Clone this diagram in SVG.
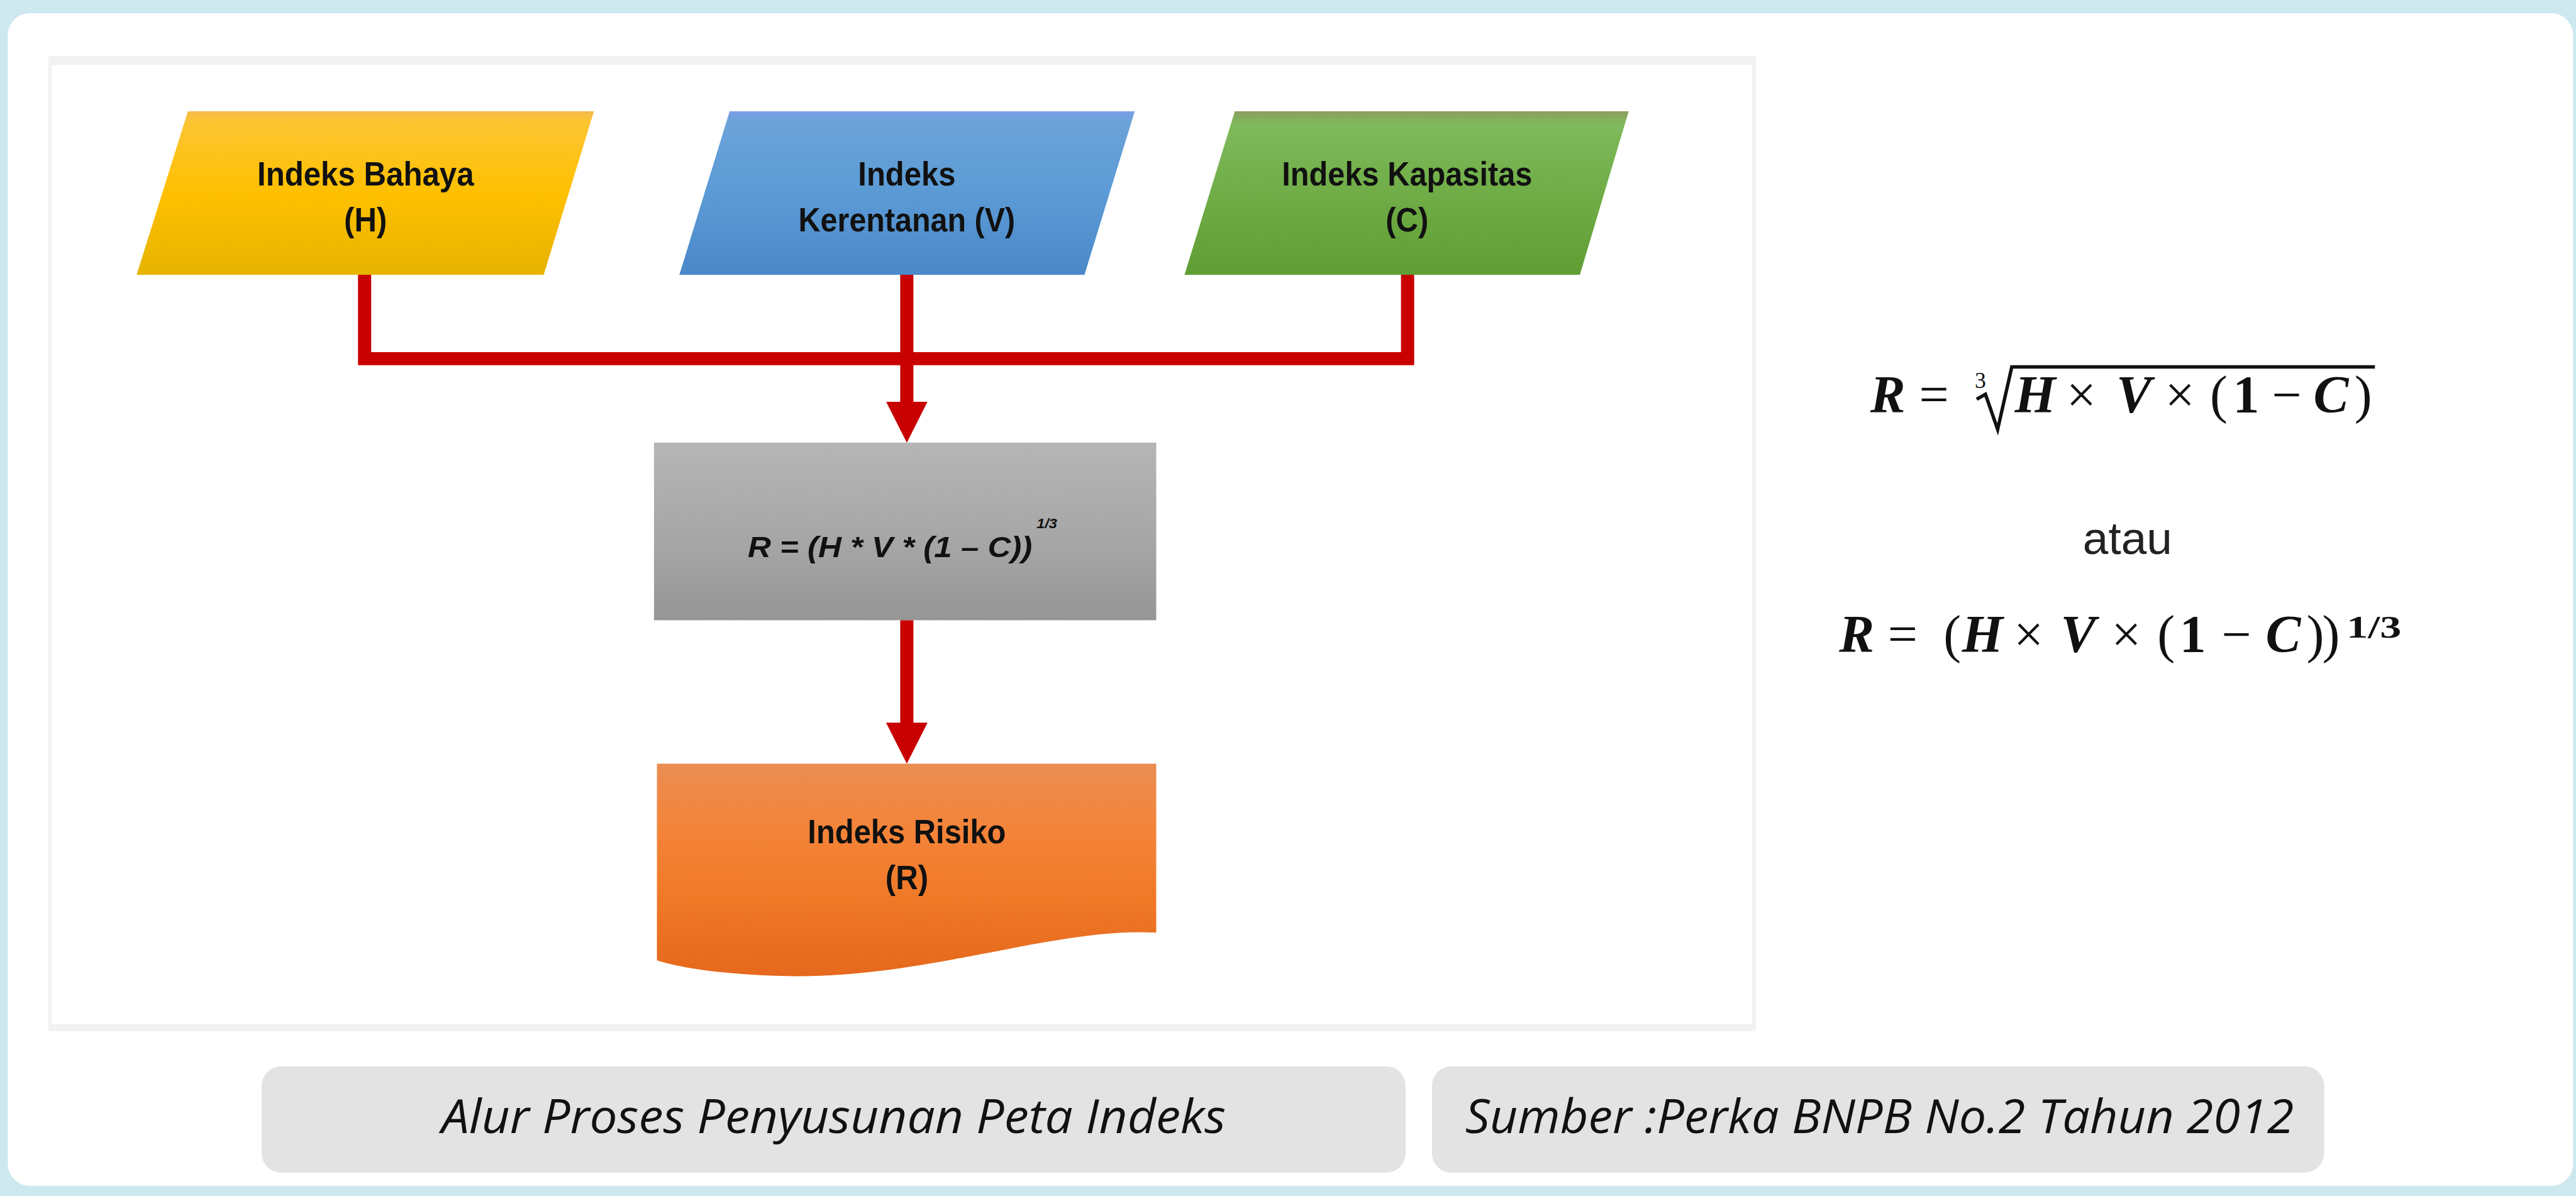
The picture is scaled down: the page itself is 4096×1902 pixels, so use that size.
<svg xmlns="http://www.w3.org/2000/svg" width="4096" height="1902" viewBox="0 0 4096 1902">
<defs>
  <linearGradient id="gY" x1="0" y1="0" x2="0" y2="1">
    <stop offset="0" stop-color="#f6b84e"/>
    <stop offset="0.06" stop-color="#fbc532"/>
    <stop offset="0.5" stop-color="#ffc000"/>
    <stop offset="1" stop-color="#e6b300"/>
  </linearGradient>
  <linearGradient id="gB" x1="0" y1="0" x2="0" y2="1">
    <stop offset="0" stop-color="#7b9ee6"/>
    <stop offset="0.06" stop-color="#6ba3d8"/>
    <stop offset="0.5" stop-color="#5b9bd5"/>
    <stop offset="1" stop-color="#4a88c9"/>
  </linearGradient>
  <linearGradient id="gG" x1="0" y1="0" x2="0" y2="1">
    <stop offset="0" stop-color="#8c9f5e"/>
    <stop offset="0.08" stop-color="#7eba5b"/>
    <stop offset="0.5" stop-color="#70ad47"/>
    <stop offset="1" stop-color="#5f9e33"/>
  </linearGradient>
  <linearGradient id="gGr" x1="0" y1="0" x2="0" y2="1">
    <stop offset="0" stop-color="#b5b5b5"/>
    <stop offset="0.5" stop-color="#a8a8a8"/>
    <stop offset="1" stop-color="#969696"/>
  </linearGradient>
  <linearGradient id="gO" x1="0" y1="0" x2="0" y2="1">
    <stop offset="0" stop-color="#ea8d52"/>
    <stop offset="0.3" stop-color="#f4843a"/>
    <stop offset="0.6" stop-color="#f07a28"/>
    <stop offset="1" stop-color="#e6681c"/>
  </linearGradient>
  <marker id="ah" markerUnits="userSpaceOnUse" viewBox="0 0 84 85" markerWidth="84" markerHeight="85" refX="44" refY="42.5" orient="auto">
    <path d="M0,0 L84,42.5 L0,85 z" fill="#c80000"/>
  </marker>
</defs>
<style>
  .nt{font-family:"Liberation Sans",Arial,sans-serif;font-weight:bold;font-size:70px;fill:#111;text-anchor:middle}
  .cap{font-family:"Open Sans","Liberation Sans",sans-serif;font-style:italic;font-size:96px;fill:#111;text-anchor:middle}
  .m{font-family:"Liberation Serif","Times New Roman",serif;font-size:108px;fill:#111}
  .bi{font-weight:bold;font-style:italic}
  .b{font-weight:bold}
  .conn{fill:none;stroke:#c80000;stroke-width:27}
  .capbox{fill:#e3e3e3}
</style>
<g transform="scale(0.776052)">
  <!-- frame -->
  <rect x="0" y="0" width="5278" height="2451" fill="#cde8ef"/>
  <rect x="16" y="27" width="5256" height="2403" rx="45" fill="#ffffff"/>
  <!-- diagram panel -->
  <rect x="99" y="115" width="3499" height="1998" fill="#f2f2f2"/>
  <rect x="106" y="133" width="3484" height="1965" fill="#ffffff"/>

  <!-- connectors -->
  <g id="connectors">
    <path class="conn" d="M747,563 V735 H2884 V563"/>
    <path class="conn" d="M1858,563 V867" marker-end="url(#ah)"/>
    <path class="conn" d="M1858,1271 V1525" marker-end="url(#ah)"/>
  </g>

  <g id="node-bahaya">
    <polygon points="385,228 1217,228 1114,563 280,563" fill="url(#gY)"/>
    <text class="nt" x="749" y="380" textLength="444" lengthAdjust="spacingAndGlyphs">Indeks Bahaya</text>
    <text class="nt" x="749" y="474" textLength="88" lengthAdjust="spacingAndGlyphs">(H)</text>
  </g>
  <g id="node-kerentanan">
    <polygon points="1495,228 2325,228 2222,563 1392,563" fill="url(#gB)"/>
    <text class="nt" x="1858" y="380" textLength="200" lengthAdjust="spacingAndGlyphs">Indeks</text>
    <text class="nt" x="1858" y="474" textLength="444" lengthAdjust="spacingAndGlyphs">Kerentanan (V)</text>
  </g>
  <g id="node-kapasitas">
    <polygon points="2530,228 3337,228 3237,563 2427,563" fill="url(#gG)"/>
    <text class="nt" x="2883" y="380" textLength="513" lengthAdjust="spacingAndGlyphs">Indeks Kapasitas</text>
    <text class="nt" x="2883" y="474" textLength="88" lengthAdjust="spacingAndGlyphs">(C)</text>
  </g>
  <g id="node-rumus">
    <rect x="1340" y="907" width="1029" height="364" fill="url(#gGr)"/>
    <text x="1532" y="1142" font-family="Liberation Sans, Arial, sans-serif" font-weight="bold" font-style="italic" font-size="60" fill="#111" textLength="583" lengthAdjust="spacingAndGlyphs">R = (H * V * (1 – C))</text>
    <text x="2124" y="1083" font-family="Liberation Sans, Arial, sans-serif" font-weight="bold" font-style="italic" font-size="28" fill="#111" textLength="42" lengthAdjust="spacingAndGlyphs">1/3</text>
  </g>
  <g id="node-risiko">
    <path d="M1346,1565 H2369 V1911 C2150,1900 1900,2008 1600,2000 C1480,1996 1400,1985 1346,1968 Z" fill="url(#gO)"/>
    <text class="nt" x="1858" y="1728" textLength="406" lengthAdjust="spacingAndGlyphs">Indeks Risiko</text>
    <text class="nt" x="1858" y="1822" textLength="88" lengthAdjust="spacingAndGlyphs">(R)</text>
  </g>

  <!-- formulas -->
  <g id="formula-1">
    <text class="m" y="845"><tspan class="bi" x="3832">R</tspan><tspan x="3932">=</tspan><tspan class="bi" x="4128">H</tspan><tspan x="4234">×</tspan><tspan class="bi" x="4336">V</tspan><tspan x="4436">×</tspan><tspan x="4528">(</tspan><tspan class="b" x="4575">1</tspan><tspan x="4655">−</tspan><tspan class="bi" x="4740">C</tspan><tspan x="4824">)</tspan></text>
    <text x="4046" y="795" font-family="Liberation Serif, Times New Roman, serif" font-size="46" fill="#111">3</text>
    <path d="M4050,818 L4068,808 L4093,880 L4122,752 L4866,752" fill="none" stroke="#111" stroke-width="7" stroke-linejoin="miter"/>
  </g>
  <text id="atau" x="4359" y="1135" font-family="Liberation Sans, Arial, sans-serif" font-size="94" fill="#222" text-anchor="middle">atau</text>
  <g id="formula-2">
    <text class="m" y="1336"><tspan class="bi" x="3768">R</tspan><tspan x="3868">=</tspan><tspan x="3982">(</tspan><tspan class="bi" x="4020">H</tspan><tspan x="4126">×</tspan><tspan class="bi" x="4222">V</tspan><tspan x="4326">×</tspan><tspan x="4420">(</tspan><tspan class="b" x="4466">1</tspan><tspan x="4552">−</tspan><tspan class="bi" x="4642">C</tspan><tspan x="4726">)</tspan><tspan x="4758">)</tspan></text>
    <text x="4808" y="1306" font-family="Liberation Serif, Times New Roman, serif" font-weight="bold" font-size="66" fill="#111" textLength="112" lengthAdjust="spacingAndGlyphs">1/3</text>
  </g>

  <!-- captions -->
  <g id="caption-1">
    <rect class="capbox" x="536" y="2185" width="2344" height="218" rx="40"/>
    <text class="cap" x="1708" y="2322" textLength="1607" lengthAdjust="spacingAndGlyphs">Alur Proses Penyusunan Peta Indeks</text>
  </g>
  <g id="caption-2">
    <rect class="capbox" x="2934" y="2185" width="1828" height="218" rx="40"/>
    <text class="cap" x="3851" y="2322" textLength="1698" lengthAdjust="spacingAndGlyphs">Sumber :Perka BNPB No.2 Tahun 2012</text>
  </g>
</g>
</svg>
